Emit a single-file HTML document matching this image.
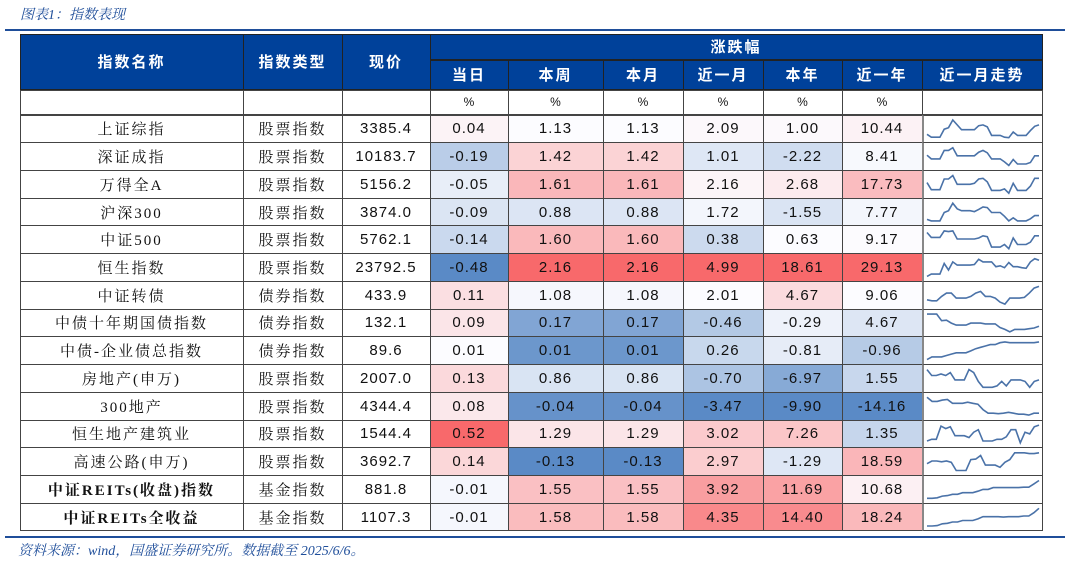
<!DOCTYPE html>
<html><head><meta charset="utf-8"><style>
body{margin:0;width:1065px;height:562px;background:#fff;position:relative;overflow:hidden;font-family:"Liberation Sans","Noto Sans CJK SC",sans-serif;}
.a{position:absolute;box-sizing:border-box;}
.c{display:flex;align-items:center;justify-content:center;color:#111;font-size:15px;}
.h{color:#fff;font-weight:bold;font-size:15px;letter-spacing:2px;}
.n{letter-spacing:1px;}
.t{font-family:"Liberation Serif","Noto Serif CJK SC",serif;letter-spacing:2px;}
</style></head><body>
<div class="a" style="left:20px;top:4px;font-style:italic;color:#1f4e9a;font-size:14px;font-family:'Liberation Serif','Noto Serif CJK SC',serif;">图表1：指数表现</div>
<div class="a" style="left:5px;top:29px;width:1060px;height:2px;background:#1f4e9a;"></div>
<div class="a" id="tbl" style="left:0;top:0;width:1065px;height:562px;"></div>
<svg class="a" id="spark" style="left:0;top:0" width="1065" height="562"></svg>
<div class="a" style="left:5px;top:536px;width:1060px;height:2px;background:#1f4e9a;"></div>
<div class="a" style="left:18px;top:540px;font-style:italic;color:#1f4e9a;font-size:14px;font-family:'Liberation Serif','Noto Serif CJK SC',serif;">资料来源：wind，国盛证券研究所。数据截至 2025/6/6。</div>
<script>
const names=["上证综指","深证成指","万得全A","沪深300","中证500","恒生指数","中证转债","中债十年期国债指数","中债-企业债总指数","房地产(申万)","300地产","恒生地产建筑业","高速公路(申万)","中证REITs(收盘)指数","中证REITs全收益"];
const types=["股票指数","股票指数","股票指数","股票指数","股票指数","股票指数","债券指数","债券指数","债券指数","股票指数","股票指数","股票指数","股票指数","基金指数","基金指数"];
const prices=["3385.4","10183.7","5156.2","3874.0","5762.1","23792.5","433.9","132.1","89.6","2007.0","4344.4","1544.4","3692.7","881.8","1107.3"];
const colHeads=["当日","本周","本月","近一月","本年","近一年"];
const dayChg=[0.04,-0.19,-0.05,-0.09,-0.14,-0.48,0.11,0.09,0.01,0.13,0.08,0.52,0.14,-0.01,-0.01];
const weekChg=[1.13,1.42,1.61,0.88,1.60,2.16,1.08,0.17,0.01,0.86,-0.04,1.29,-0.13,1.55,1.58];
const monthChg=[1.13,1.42,1.61,0.88,1.60,2.16,1.08,0.17,0.01,0.86,-0.04,1.29,-0.13,1.55,1.58];
const m1Chg=[2.09,1.01,2.16,1.72,0.38,4.99,2.01,-0.46,0.26,-0.70,-3.47,3.02,2.97,3.92,4.35];
const ytdChg=[1.00,-2.22,2.68,-1.55,0.63,18.61,4.67,-0.29,-0.81,-6.97,-9.90,7.26,-1.29,11.69,14.40];
const y1Chg=[10.44,8.41,17.73,7.77,9.17,29.13,9.06,4.67,-0.96,1.55,-14.16,1.35,18.59,10.68,18.24];
const s1=[32,22,22,22,50,55,82,65,48,48,48,48,62,65,58,28,28,28,22,20,40,28,28,28,45,60,65];
const s2=[64,52,52,52,80,80,89,62,62,62,62,62,74,80,72,52,52,52,42,30,50,35,35,35,40,62,62];
const s3=[60,40,40,40,70,70,80,55,55,55,55,58,70,72,62,38,38,38,42,30,58,38,38,38,50,72,72];
const s4=[30,25,25,25,52,58,82,64,58,58,58,55,62,70,68,52,52,52,40,25,35,25,25,25,32,42,42];
const s5=[75,60,60,60,80,78,80,55,55,55,55,55,58,65,62,30,30,30,38,25,58,38,38,38,45,65,65];
const s6=[15,22,22,22,55,35,60,50,50,50,50,52,68,60,60,60,45,48,42,58,45,45,42,40,60,70,65];
const s7=[35,32,32,45,55,55,40,40,40,45,55,60,45,45,40,28,22,40,40,40,42,55,70,75];
const s8=[85,85,85,58,60,48,40,40,40,48,48,48,45,45,45,30,22,12,22,22,22,25,28,35];
const s9=[10,20,20,20,25,30,35,35,35,42,50,55,60,65,65,72,75,72,72,72,72,72,72,75];
const s10=[80,60,60,65,60,70,45,45,45,80,70,40,20,20,20,25,40,25,45,45,45,40,20,40,45];
const s11=[80,65,65,70,72,58,58,58,62,58,55,35,22,22,20,22,25,22,18,18,15,22,22];
const s12=[30,35,35,72,65,70,45,45,45,40,55,62,30,30,30,35,35,42,62,62,25,55,50,70,75];
const s13=[45,55,55,52,55,50,20,20,20,60,62,75,40,40,40,32,50,60,85,85,85,82,82,85];
const s14=[10,10,12,20,22,28,28,35,35,35,42,50,50,58,58,58,58,58,58,60,60,75,90];
const s15=[10,10,12,20,22,28,28,35,35,35,42,52,52,52,52,50,52,52,52,55,55,70,90];

const sparks=[s1,s2,s3,s4,s5,s6,s7,s8,s9,s10,s11,s12,s13,s14,s15];
const cols=[dayChg,weekChg,monthChg,m1Chg,ytdChg,y1Chg];
const X=[20,243,342,430,508,603,683,763,842,922,1043];
const top0=34, hRow2=60, pctRow=90, dataTop=115, rowH=(531-115)/15;
const tbl=document.getElementById('tbl');
function box(x,y,w,h,cls,txt,bg,border){
  const d=document.createElement('div');
  d.className='a c '+cls;
  d.style.cssText=`left:${x}px;top:${y}px;width:${w}px;height:${h}px;background:${bg};border:1px solid ${border};margin:-0.5px;`;
  d.textContent=txt;
  tbl.appendChild(d);return d;
}
const HB='#00419a';
let d;
d=box(X[0],top0,X[1]-X[0]+1,pctRow-top0,'h','指数名称',HB,'#222');


d=box(X[1],top0,X[2]-X[1]+1,pctRow-top0,'h','指数类型',HB,'#222');


d=box(X[2],top0,X[3]-X[2]+1,pctRow-top0,'h','现价',HB,'#222');


d=box(X[3],top0,X[10]-X[3],hRow2-top0,'h','涨跌幅',HB,'#222');


for(let j=0;j<6;j++){
  d=box(X[4+j-1+0]===undefined?0:X[3+j],hRow2,X[4+j]-X[3+j]+1,pctRow-hRow2,'h',colHeads[j],HB,'#222');
  
  
  d=box(X[3+j],pctRow,X[4+j]-X[3+j]+1,dataTop-pctRow,'','%','#fff','#444');
  d.style.fontSize='12px';
  
  
}
d=box(X[9],hRow2,X[10]-X[9],pctRow-hRow2,'h','近一月走势',HB,'#222');


for(let k=0;k<3;k++){
  d=box(X[k],pctRow,X[k+1]-X[k]+1,dataTop-pctRow,'','','#fff','#444');
  
  
}
d=box(X[9],pctRow,X[10]-X[9],dataTop-pctRow,'','','#fff','#444');



function pct50(a){const s=[...a].sort((p,q)=>p-q);const n=s.length;return n%2?s[(n-1)/2]:(s[n/2-1]+s[n/2])/2;}
function mix(c1,c2,t){return `rgb(${c1.map((v,i)=>Math.round(v+(c2[i]-v)*t)).join(',')})`;}
const RED=[248,105,107],WHITE=[252,252,255],BLUE=[90,138,198];
function colorFor(v,a){const mn=Math.min(...a),mx=Math.max(...a),md=pct50(a);
  if(v>=md)return mix(WHITE,RED,mx===md?0:(v-md)/(mx-md));
  return mix(WHITE,BLUE,md===mn?0:(md-v)/(md-mn));}

const svg=document.getElementById('spark');
for(let i=0;i<names.length;i++){
  const y=dataTop+i*rowH;
  d=box(X[0],y,X[1]-X[0]+1,rowH+1,'t',names[i],'#fff','#444');
  if(i>=13){d.style.fontWeight='bold';}
  
  
  d=box(X[1],y,X[2]-X[1]+1,rowH+1,'t',types[i],'#fff','#444');
  
  
  d=box(X[2],y,X[3]-X[2]+1,rowH+1,'n',prices[i],'#fff','#444');
  
  
  for(let j=0;j<6;j++){
    const v=cols[j][i];
    d=box(X[3+j],y,X[4+j]-X[3+j]+1,rowH+1,'n',v.toFixed(2),colorFor(v,cols[j]),'#444');
    
    
  }
  d=box(X[9],y,X[10]-X[9],rowH+1,'','','#fff','#444');
  d.style.borderLeft='2px solid #888';
  
  
  const s=sparks[i],mn=Math.min(...s),mx=Math.max(...s);
  const x0=927,x1=1039,yt=y+5,yb=y+rowH-5;
  const pts=s.map((v,k)=>`${(x0+(x1-x0)*k/(s.length-1)).toFixed(1)},${(yb-(yb-yt)*(v-mn)/(mx-mn)).toFixed(1)}`).join(' ');
  const pl=document.createElementNS('http://www.w3.org/2000/svg','polyline');
  pl.setAttribute('points',pts);
  pl.setAttribute('fill','none');
  pl.setAttribute('stroke','#4a72a8');
  pl.setAttribute('stroke-width','1.6');
  
  
  svg.appendChild(pl);
}
</script>
</body></html>
